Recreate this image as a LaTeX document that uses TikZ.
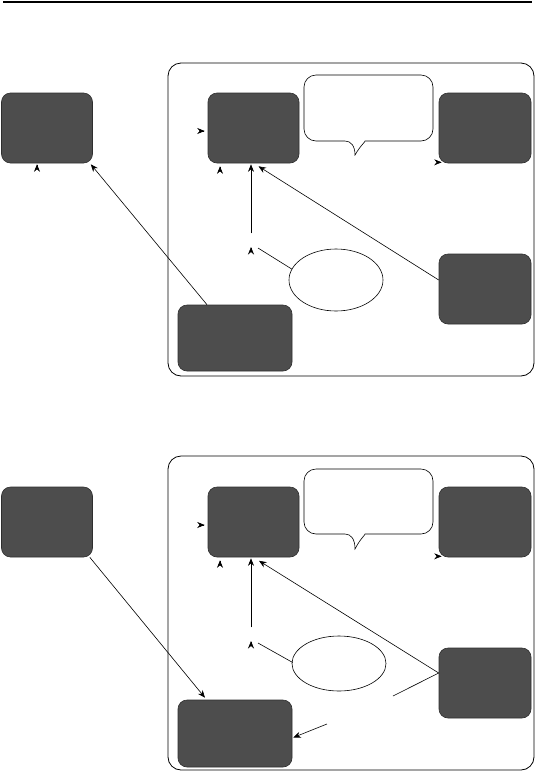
\documentclass[tikz,border=0pt]{standalone}
\usetikzlibrary{arrows.meta,shapes.geometric,calc}
\definecolor{boxfill}{HTML}{4D4D4D}
\definecolor{boxline}{HTML}{2E2E2E}
\tikzset{
  x=1pt,y=-1pt,
  box/.style={draw=boxline,fill=boxfill,rounded corners=9pt,line width=0.6pt,inner sep=0pt},
  container/.style={draw=black,rounded corners=13pt,line width=0.8pt},
  oval/.style={draw=black,ellipse,line width=0.6pt,inner sep=0pt,fill=white},
  bubble/.style={draw=black,line width=0.6pt,fill=white},
  arr/.style={draw=black,line width=0.6pt,-{Stealth[length=7.5pt,width=6pt,inset=2.5pt]}},
  plain/.style={draw=black,line width=0.6pt},
}
\begin{document}
\begin{tikzpicture}
\useasboundingbox (0,0) rectangle (535,772);
\fill[white] (0,0) rectangle (535,772);
% top rule
\coordinate (r1) at (3,2);
\coordinate (r2) at (532,2);
\draw[line width=1.3pt] (r1) -- (r2);

% ================= top panel =================
\node[container,minimum width=366pt,minimum height=313pt] (cont1) at (351,219.5) {};
\node[box,minimum width=91pt,minimum height=70pt] (A1) at (47,128) {};
\node[box,minimum width=91pt,minimum height=70pt] (B1) at (253.5,128) {};
\node[box,minimum width=92pt,minimum height=70pt] (C1) at (485,128) {};
\node[box,minimum width=92pt,minimum height=70pt] (D1) at (485,289) {};
\node[box,minimum width=114pt,minimum height=66pt] (E1) at (235,338) {};
\node[oval,minimum width=94pt,minimum height=62pt] (el1) at (336,280) {};
% speech bubble
\draw[bubble,rounded corners=12pt] (345,141) -- (304,141) -- (304,75) -- (433,75) -- (433,141) -- (377,141)
  [sharp corners] .. controls (366,141) and (360,146) .. (355,155)
  .. controls (355,146) and (351,141) .. (345,141);
% connectors
\draw[arr] ($(E1.north)+(-28,0)$) -- ($(A1.south east)+(-2,1)$);
\draw[arr] ($(D1.west)+(0,-9)$) -- ($(B1.south)+(5,3)$);
\coordinate (v1) at ($(B1.south)+(-2.5,70)$);
\draw[arr] (v1) -- ($(B1.south)+(-2.5,1)$);
\coordinate (e1end) at (258,248);
\draw[plain] ($(el1.west)+(3,-11)$) -- (e1end);
% lone arrowheads
\coordinate (t1) at ($(B1.west)+(-3,3)$);
\draw[arr] ($(t1)+(-1,0)$) -- (t1);
\coordinate (t2) at ($(B1.south)+(-33.5,3)$);
\draw[arr] ($(t2)+(0,1)$) -- (t2);
\coordinate (t3) at ($(A1.south)+(-10,1)$);
\draw[arr] ($(t3)+(0,1)$) -- (t3);
\coordinate (t4) at ($(C1.south west)+(3,-1)$);
\draw[arr] ($(t4)+(-1,0)$) -- (t4);
\coordinate (t5) at (251,247);
\draw[arr] ($(t5)+(0,1)$) -- (t5);

% ================= bottom panel =================
\node[container,minimum width=366pt,minimum height=314pt] (cont2) at (351,613) {};
\node[box,minimum width=91pt,minimum height=70pt] (A2) at (47,522) {};
\node[box,minimum width=91pt,minimum height=70pt] (B2) at (253.5,522) {};
\node[box,minimum width=92pt,minimum height=70pt] (C2) at (485,522) {};
\node[box,minimum width=92pt,minimum height=70pt] (D2) at (485,683) {};
\node[box,minimum width=114pt,minimum height=67pt] (E2) at (235,733.5) {};
\node[oval,minimum width=94pt,minimum height=55pt] (el2) at (339,663.5) {};
% speech bubble
\draw[bubble,rounded corners=12pt] (345,534) -- (304,534) -- (304,469) -- (433,469) -- (433,534) -- (377,534)
  [sharp corners] .. controls (366,534) and (360,539) .. (355,549)
  .. controls (355,539) and (351,534) .. (345,534);
% connectors
\draw[arr] ($(A2.south east)+(-3,0)$) -- ($(E2.north)+(-30,-2)$);
\draw[arr] ($(D2.west)+(0,-10)$) -- ($(B2.south)+(5.5,3.5)$);
\coordinate (dfree) at (393,696);
\draw[plain] ($(D2.west)+(0,-10)$) -- (dfree);
\coordinate (efree) at (327,724);
\draw[arr] (efree) -- ($(E2.east)+(1,4)$);
\coordinate (v2) at ($(B2.south)+(-2.5,70)$);
\draw[arr] (v2) -- ($(B2.south)+(-2.5,1)$);
\coordinate (e2end) at (258,643);
\draw[plain] ($(el2.west)+(1,-1)$) -- (e2end);
% lone arrowheads
\coordinate (s1) at ($(B2.west)+(-3,3)$);
\draw[arr] ($(s1)+(-1,0)$) -- (s1);
\coordinate (s2) at ($(B2.south)+(-33.5,3)$);
\draw[arr] ($(s2)+(0,1)$) -- (s2);
\coordinate (s4) at ($(C2.south west)+(3,-1)$);
\draw[arr] ($(s4)+(-1,0)$) -- (s4);
\coordinate (s5) at (251,641);
\draw[arr] ($(s5)+(0,1)$) -- (s5);
\end{tikzpicture}
\end{document}
